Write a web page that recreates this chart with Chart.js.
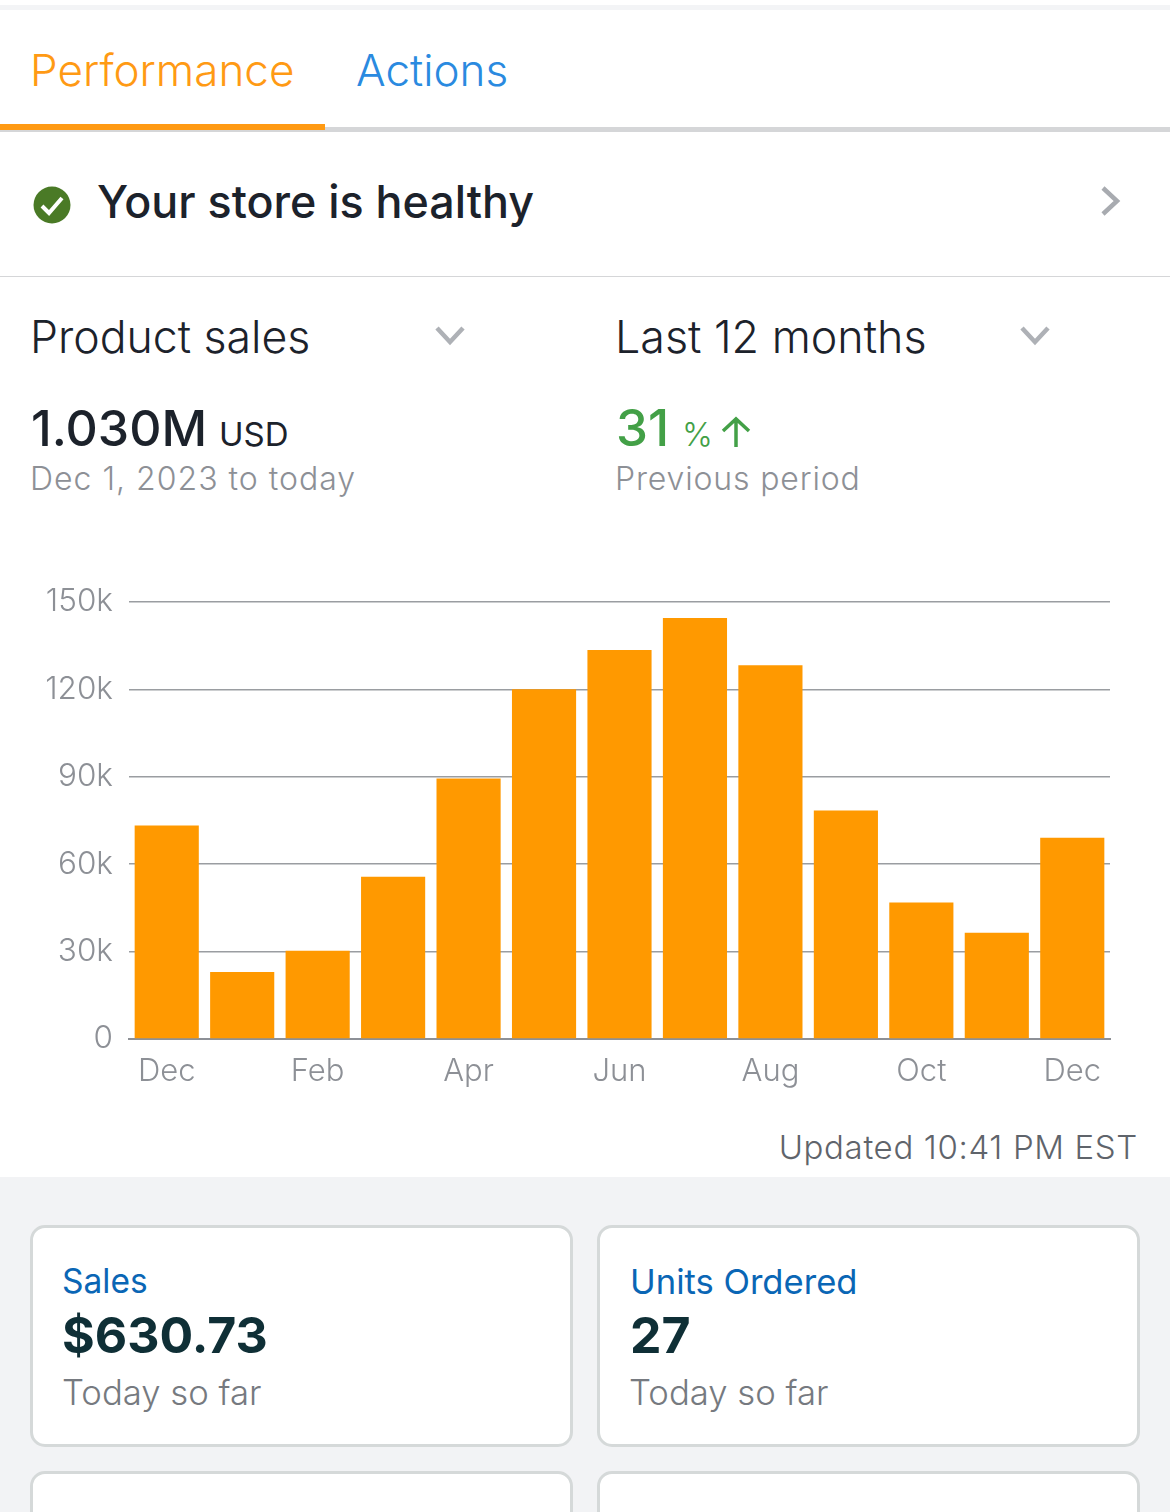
<!DOCTYPE html>
<html>
<head>
<meta charset="utf-8">
<script src="https://cdn.jsdelivr.net/npm/chart.js@4"></script>
<style>
    html, body { margin: 0; padding: 0; background: #fff; }
    body { width: 1170px; height: 1512px; overflow: hidden; position: relative; font-family: Inter, sans-serif; }
    .t { position: absolute; white-space: nowrap; line-height: 1; }
    .box { position: absolute; }
    .card { position: absolute; box-sizing: border-box; background: #fff; border: 3px solid #d5d9d9; border-radius: 15px; }
    svg { position: absolute; overflow: visible; }
    #wrap { position: absolute; left: 0; top: 567px; width: 1170px; height: 533px; }
</style>
</head>
<body>
<div class="box" style="left:0;top:5px;width:1170px;height:5px;background:#f3f4f6"></div>

<div class="t" style="left:30px;top:48px;font-size:44px;font-weight:300;color:#ff9a14">Performance</div>
<div class="t" style="left:356px;top:48px;font-size:44px;font-weight:300;color:#2a8ae0">Actions</div>
<div class="box" style="left:0;top:127px;width:1170px;height:5px;background:#d5d6d8"></div>
<div class="box" style="left:0;top:124px;width:325px;height:6px;background:#ff9a14"></div>

<svg style="left:33px;top:186px" width="38" height="38" viewBox="0 0 38 38">
    <circle cx="19" cy="19" r="18.5" fill="#4a7a26"/>
    <path d="M9 20 L16 27 L29 12" fill="none" stroke="#fff" stroke-width="4"/>
</svg>
<div class="t" style="left:97px;top:180px;font-size:44.8px;font-weight:500;color:#1c222b">Your store is healthy</div>
<svg style="left:1100px;top:185px" width="20" height="32" viewBox="0 0 20 32">
    <path d="M3 3 L17 16 L3 29" fill="none" stroke="#a8abb0" stroke-width="4.5"/>
</svg>
<div class="box" style="left:0;top:276px;width:1170px;height:1px;background:#d5d6d8"></div>

<div class="t" style="left:30px;top:315px;font-size:44.6px;font-weight:300;color:#1c222b">Product sales</div>
<svg style="left:435px;top:326px" width="30" height="20" viewBox="0 0 30 20">
    <path d="M2 2 L15 16 L28 2" fill="none" stroke="#aeb1b6" stroke-width="4.5"/>
</svg>
<div class="t" style="left:615px;top:315px;font-size:44.8px;font-weight:300;color:#1c222b">Last 12 months</div>
<svg style="left:1020px;top:326px" width="30" height="20" viewBox="0 0 30 20">
    <path d="M2 2 L15 16 L28 2" fill="none" stroke="#aeb1b6" stroke-width="4.5"/>
</svg>

<div class="t" style="left:31px;top:403px;font-size:50px;font-weight:500;color:#1c222b">1.030M</div>
<div class="t" style="left:219px;top:418px;font-size:33px;font-weight:400;color:#1c222b">USD</div>
<div class="t" style="left:30px;top:463px;font-size:32px;font-weight:300;letter-spacing:1px;color:#8d9096">Dec 1, 2023 to today</div>

<div class="t" style="left:616px;top:402px;font-size:51px;font-weight:500;color:#43a047">31</div>
<div class="t" style="left:682px;top:418px;font-size:33px;font-weight:300;color:#43a047">%</div>
<svg style="left:720px;top:416px" width="32" height="32" viewBox="0 0 32 32">
    <path d="M16 31 L16 3 M3 15 L16 3 L29 15" fill="none" stroke="#43a047" stroke-width="3.5"/>
</svg>
<div class="t" style="left:615px;top:463px;font-size:32px;font-weight:300;letter-spacing:0.85px;color:#8d9096">Previous period</div>

<div id="wrap"><canvas id="chart" width="1170" height="533"></canvas></div>

<div class="t" style="right:32px;top:1131px;font-size:33px;font-weight:300;letter-spacing:0.65px;color:#5f646b">Updated 10:41 PM EST</div>

<div class="box" style="left:0;top:1177px;width:1170px;height:335px;background:#f2f3f5"></div>

<div class="card" style="left:30px;top:1225px;width:543px;height:222px"></div>
<div class="card" style="left:597px;top:1225px;width:543px;height:222px"></div>
<div class="card" style="left:30px;top:1471px;width:543px;height:80px"></div>
<div class="card" style="left:597px;top:1471px;width:543px;height:80px"></div>

<div class="t" style="left:62px;top:1265px;font-size:33.5px;font-weight:400;color:#0a66b5">Sales</div>
<div class="t" style="left:62px;top:1310px;font-size:50px;font-weight:700;color:#0f2f36">$630.73</div>
<div class="t" style="left:62px;top:1375px;font-size:34.7px;font-weight:300;color:#767a80">Today so far</div>
<div class="t" style="left:630px;top:1264px;font-size:34.6px;font-weight:400;color:#0a66b5">Units Ordered</div>
<div class="t" style="left:630px;top:1310px;font-size:50px;font-weight:700;color:#0f2f36">27</div>
<div class="t" style="left:629px;top:1375px;font-size:34.7px;font-weight:300;color:#767a80">Today so far</div>

<script>
const months = ['Dec', 'Jan', 'Feb', 'Mar', 'Apr', 'May', 'Jun', 'Jul', 'Aug', 'Sep', 'Oct', 'Nov', 'Dec'];
const sales = [73300, 23000, 30300, 55700, 89400, 120000, 133500, 144500, 128300, 78400, 46800, 36500, 69100];
const yTicks = [0, 30000, 60000, 90000, 120000, 150000];

const ctx = document.getElementById('chart');

new Chart(ctx, {
    type: 'bar',
    data: {
        labels: months,
        datasets: [
            {
                data: sales,
                backgroundColor: '#ff9900',
                barPercentage: 0.85,
                categoryPercentage: 1
            }
        ]
    },
    options: {
        responsive: false,
        animation: false,
        layout: {
            padding: { top: 5, right: 60, left: 0, bottom: 0 }
        },
        plugins: {
            legend: { display: false },
            tooltip: { enabled: false }
        },
        scales: {
            x: {
                border: { display: true, color: '#8d9096', width: 2 },
                grid: { display: false },
                afterFit: function (scale) { scale.height = 61; },
                ticks: {
                    autoSkip: false,
                    maxRotation: 0,
                    padding: 6,
                    color: '#8d9096',
                    font: { family: 'Inter', size: 31, weight: '300' },
                    callback: function (value, index) {
                        return index % 2 == 0 ? months[index] : '';
                    }
                }
            },
            y: {
                min: 0,
                max: 150000,
                border: { display: false },
                grid: { color: '#9a9da1', lineWidth: 1.5, drawTicks: false },
                afterFit: function (scale) { scale.width = 129; },
                afterBuildTicks: function (scale) {
                    scale.ticks = yTicks.map(function (v) { return { value: v }; });
                },
                ticks: {
                    padding: 16,
                    color: '#8d9096',
                    font: { family: 'Inter', size: 31.5, weight: '300' },
                    callback: function (value) {
                        return value == 0 ? '0' : (value / 1000) + 'k';
                    }
                }
            }
        }
    }
});
</script>
</body>
</html>
